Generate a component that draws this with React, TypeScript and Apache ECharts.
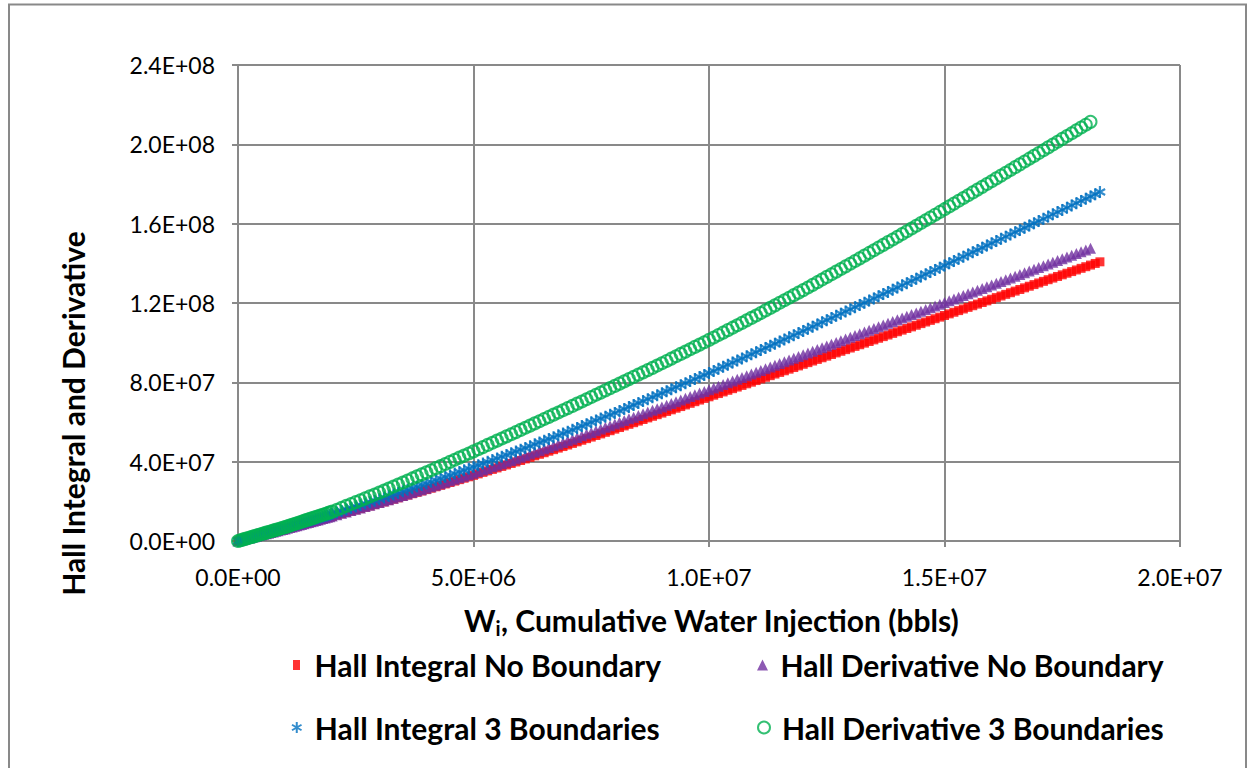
import React, { useEffect, useRef } from "react";
import * as echarts from "echarts";

// Cumulative water injection Wi, in millions of bbl (dense early steps, then ~1e5 bbl steps)
const wiMillionBbl = [
  0, 0.05, 0.1, 0.15, 0.2, 0.25, 0.3, 0.35, 0.4, 0.45, 0.5, 0.55, 0.6, 0.65, 0.7, 0.75, 0.8, 0.85, 0.9, 0.95,
  1, 1.05, 1.1, 1.15, 1.2, 1.25, 1.3, 1.35, 1.4, 1.45, 1.5, 1.55, 1.6, 1.65, 1.7, 1.75, 1.8, 1.85, 1.9, 1.95,
  2, 2.1, 2.2, 2.3, 2.4, 2.5, 2.6, 2.7, 2.8, 2.9,
  3, 3.1, 3.2, 3.3, 3.4, 3.5, 3.6, 3.7, 3.8, 3.9,
  4, 4.1, 4.2, 4.3, 4.4, 4.5, 4.6, 4.7, 4.8, 4.9,
  5, 5.1, 5.2, 5.3, 5.4, 5.5, 5.6, 5.7, 5.8, 5.9,
  6, 6.1, 6.2, 6.3, 6.4, 6.5, 6.6, 6.7, 6.8, 6.9,
  7, 7.1, 7.2, 7.3, 7.4, 7.5, 7.6, 7.7, 7.8, 7.9,
  8, 8.1, 8.2, 8.3, 8.4, 8.5, 8.6, 8.7, 8.8, 8.9,
  9, 9.1, 9.2, 9.3, 9.4, 9.5, 9.6, 9.7, 9.8, 9.9,
  10, 10.1, 10.2, 10.3, 10.4, 10.5, 10.6, 10.7, 10.8, 10.9,
  11, 11.1, 11.2, 11.3, 11.4, 11.5, 11.6, 11.7, 11.8, 11.9,
  12, 12.1, 12.2, 12.3, 12.4, 12.5, 12.6, 12.7, 12.8, 12.9,
  13, 13.1, 13.2, 13.3, 13.4, 13.5, 13.6, 13.7, 13.8, 13.9,
  14, 14.1, 14.2, 14.3, 14.4, 14.5, 14.6, 14.7, 14.8, 14.9,
  15, 15.1, 15.2, 15.3, 15.4, 15.5, 15.6, 15.7, 15.8, 15.9,
  16, 16.1, 16.2, 16.3, 16.4, 16.5, 16.6, 16.7, 16.8, 16.9,
  17, 17.1, 17.2, 17.3, 17.4, 17.5, 17.6, 17.7, 17.8, 17.9,
  18, 18.1, 18.2, 18.3,
];

// Hall Integral No Boundary (millions)
const hallIntegralNoBoundaryM = [
  0, 0.3, 0.6, 0.9, 1.2, 1.5, 1.8, 2.1, 2.4, 2.7, 3, 3.3, 3.6, 3.9, 4.2, 4.5, 4.8, 5.1, 5.4, 5.7,
  6, 6.32, 6.64, 6.96, 7.28, 7.6, 7.92, 8.24, 8.56, 8.88, 9.2, 9.52, 9.84, 10.16, 10.48, 10.8, 11.12, 11.44, 11.76, 12.08,
  12.4, 13.06, 13.72, 14.38, 15.04, 15.7, 16.36, 17.02, 17.68, 18.34,
  19, 19.69, 20.38, 21.07, 21.76, 22.45, 23.14, 23.83, 24.52, 25.21,
  25.9, 26.62, 27.34, 28.06, 28.78, 29.5, 30.22, 30.94, 31.66, 32.38,
  33.1, 33.85, 34.6, 35.35, 36.1, 36.85, 37.6, 38.35, 39.1, 39.85,
  40.6, 41.38, 42.16, 42.94, 43.72, 44.5, 45.28, 46.06, 46.84, 47.62,
  48.4, 49.2, 50, 50.8, 51.6, 52.4, 53.2, 54, 54.8, 55.6,
  56.4, 57.21, 58.02, 58.83, 59.64, 60.45, 61.26, 62.07, 62.88, 63.69,
  64.5, 65.32, 66.14, 66.96, 67.78, 68.6, 69.42, 70.24, 71.06, 71.88,
  72.7, 73.52, 74.34, 75.16, 75.98, 76.8, 77.62, 78.44, 79.26, 80.08,
  80.9, 81.72, 82.54, 83.36, 84.18, 85, 85.82, 86.64, 87.46, 88.28,
  89.1, 89.92, 90.74, 91.56, 92.38, 93.2, 94.02, 94.84, 95.66, 96.48,
  97.3, 98.12, 98.94, 99.76, 100.58, 101.4, 102.22, 103.04, 103.86, 104.68,
  105.5, 106.32, 107.14, 107.96, 108.78, 109.6, 110.42, 111.24, 112.06, 112.88,
  113.7, 114.52, 115.34, 116.16, 116.98, 117.8, 118.62, 119.44, 120.26, 121.08,
  121.9, 122.72, 123.54, 124.36, 125.18, 126, 126.82, 127.64, 128.46, 129.28,
  130.1, 130.92, 131.74, 132.56, 133.38, 134.2, 135.02, 135.84, 136.66, 137.48,
  138.3, 139.12, 139.94, 140.76,
];

// Hall Derivative No Boundary (millions)
const hallDerivativeNoBoundaryM = [
  0, 0.305, 0.61, 0.915, 1.22, 1.525, 1.83, 2.135, 2.44, 2.745, 3.05, 3.355, 3.66, 3.965, 4.27, 4.575, 4.88, 5.185, 5.49, 5.795,
  6.1, 6.425, 6.75, 7.075, 7.4, 7.725, 8.05, 8.375, 8.7, 9.025, 9.35, 9.675, 10, 10.325, 10.65, 10.975, 11.3, 11.625, 11.95, 12.275,
  12.6, 13.28, 13.96, 14.64, 15.32, 16, 16.68, 17.36, 18.04, 18.72,
  19.4, 20.12, 20.84, 21.56, 22.28, 23, 23.72, 24.44, 25.16, 25.88,
  26.6, 27.36, 28.12, 28.88, 29.64, 30.4, 31.16, 31.92, 32.68, 33.44,
  34.2, 35, 35.8, 36.6, 37.4, 38.2, 39, 39.8, 40.6, 41.4,
  42.2, 43.03, 43.86, 44.69, 45.52, 46.35, 47.18, 48.01, 48.84, 49.67,
  50.5, 51.35, 52.2, 53.05, 53.9, 54.75, 55.6, 56.45, 57.3, 58.15,
  59, 59.86, 60.72, 61.58, 62.44, 63.3, 64.16, 65.02, 65.88, 66.74,
  67.6, 68.47, 69.34, 70.21, 71.08, 71.95, 72.82, 73.69, 74.56, 75.43,
  76.3, 77.18, 78.06, 78.94, 79.82, 80.7, 81.58, 82.46, 83.34, 84.22,
  85.1, 85.98, 86.86, 87.74, 88.62, 89.5, 90.38, 91.26, 92.14, 93.02,
  93.9, 94.78, 95.66, 96.54, 97.42, 98.3, 99.18, 100.06, 100.94, 101.82,
  102.7, 103.58, 104.46, 105.34, 106.22, 107.1, 107.98, 108.86, 109.74, 110.62,
  111.5, 112.38, 113.26, 114.14, 115.02, 115.9, 116.78, 117.66, 118.54, 119.42,
  120.3, 121.18, 122.06, 122.94, 123.82, 124.7, 125.58, 126.46, 127.34, 128.22,
  129.1, 129.98, 130.86, 131.74, 132.62, 133.5, 134.38, 135.26, 136.14, 137.02,
  137.9, 138.78, 139.66, 140.54, 141.42, 142.3, 143.18, 144.06, 144.94, 145.82,
  146.7, 147.58,
];

// Hall Integral 3 Boundaries (millions)
const hallIntegral3BoundariesM = [
  0, 0.335, 0.67, 1.005, 1.34, 1.675, 2.01, 2.345, 2.68, 3.015, 3.35, 3.685, 4.02, 4.355, 4.69, 5.025, 5.36, 5.695, 6.03, 6.365,
  6.7, 7.045, 7.39, 7.735, 8.08, 8.425, 8.77, 9.115, 9.46, 9.805, 10.15, 10.495, 10.84, 11.185, 11.53, 11.875, 12.22, 12.565, 12.91, 13.255,
  13.6, 14.35, 15.1, 15.85, 16.6, 17.35, 18.1, 18.85, 19.6, 20.35,
  21.1, 21.89, 22.68, 23.47, 24.26, 25.05, 25.84, 26.63, 27.42, 28.21,
  29, 29.83, 30.66, 31.49, 32.32, 33.15, 33.98, 34.81, 35.64, 36.47,
  37.3, 38.17, 39.04, 39.91, 40.78, 41.65, 42.52, 43.39, 44.26, 45.13,
  46, 46.91, 47.82, 48.73, 49.64, 50.55, 51.46, 52.37, 53.28, 54.19,
  55.1, 56.05, 57, 57.95, 58.9, 59.85, 60.8, 61.75, 62.7, 63.65,
  64.6, 65.59, 66.58, 67.57, 68.56, 69.55, 70.54, 71.53, 72.52, 73.51,
  74.5, 75.52, 76.54, 77.56, 78.58, 79.6, 80.62, 81.64, 82.66, 83.68,
  84.7, 85.75, 86.8, 87.85, 88.9, 89.95, 91, 92.05, 93.1, 94.15,
  95.2, 96.27, 97.34, 98.41, 99.48, 100.55, 101.62, 102.69, 103.76, 104.83,
  105.9, 106.99, 108.08, 109.17, 110.26, 111.35, 112.44, 113.53, 114.62, 115.71,
  116.8, 117.9, 119, 120.1, 121.2, 122.3, 123.4, 124.5, 125.6, 126.7,
  127.8, 128.91, 130.02, 131.13, 132.24, 133.35, 134.46, 135.57, 136.68, 137.79,
  138.9, 140.02, 141.14, 142.26, 143.38, 144.5, 145.62, 146.74, 147.86, 148.98,
  150.1, 151.22, 152.34, 153.46, 154.58, 155.7, 156.82, 157.94, 159.06, 160.18,
  161.3, 162.43, 163.56, 164.69, 165.82, 166.95, 168.08, 169.21, 170.34, 171.47,
  172.6, 173.73, 174.86, 175.99,
];

// Hall Derivative 3 Boundaries (millions)
const hallDerivative3BoundariesM = [
  0, 0.35, 0.7, 1.05, 1.4, 1.75, 2.1, 2.45, 2.8, 3.15, 3.5, 3.85, 4.2, 4.55, 4.9, 5.25, 5.6, 5.95, 6.3, 6.65,
  7, 7.39, 7.78, 8.17, 8.56, 8.95, 9.34, 9.73, 10.12, 10.51, 10.9, 11.29, 11.68, 12.07, 12.46, 12.85, 13.24, 13.63, 14.02, 14.41,
  14.8, 15.76, 16.72, 17.68, 18.64, 19.6, 20.56, 21.52, 22.48, 23.44,
  24.4, 25.42, 26.44, 27.46, 28.48, 29.5, 30.52, 31.54, 32.56, 33.58,
  34.6, 35.66, 36.72, 37.78, 38.84, 39.9, 40.96, 42.02, 43.08, 44.14,
  45.2, 46.28, 47.36, 48.44, 49.52, 50.6, 51.68, 52.76, 53.84, 54.92,
  56, 57.1, 58.2, 59.3, 60.4, 61.5, 62.6, 63.7, 64.8, 65.9,
  67, 68.12, 69.24, 70.36, 71.48, 72.6, 73.72, 74.84, 75.96, 77.08,
  78.2, 79.34, 80.48, 81.62, 82.76, 83.9, 85.04, 86.18, 87.32, 88.46,
  89.6, 90.78, 91.96, 93.14, 94.32, 95.5, 96.68, 97.86, 99.04, 100.22,
  101.4, 102.63, 103.86, 105.09, 106.32, 107.55, 108.78, 110.01, 111.24, 112.47,
  113.7, 114.98, 116.26, 117.54, 118.82, 120.1, 121.38, 122.66, 123.94, 125.22,
  126.5, 127.83, 129.16, 130.49, 131.82, 133.15, 134.48, 135.81, 137.14, 138.47,
  139.8, 141.16, 142.52, 143.88, 145.24, 146.6, 147.96, 149.32, 150.68, 152.04,
  153.4, 154.79, 156.18, 157.57, 158.96, 160.35, 161.74, 163.13, 164.52, 165.91,
  167.3, 168.71, 170.12, 171.53, 172.94, 174.35, 175.76, 177.17, 178.58, 179.99,
  181.4, 182.82, 184.24, 185.66, 187.08, 188.5, 189.92, 191.34, 192.76, 194.18,
  195.6, 197.03, 198.46, 199.89, 201.32, 202.75, 204.18, 205.61, 207.04, 208.47,
  209.9, 211.33,
];

const seriesNames = [
  "Hall Integral No Boundary",
  "Hall Derivative No Boundary",
  "Hall Integral 3 Boundaries",
  "Hall Derivative 3 Boundaries",
];

const xAxisTitle = "W{sub|i}, Cumulative Water Injection (bbls)";
const yAxisTitle = "Hall Integral and Derivative";

const FONT = "Lato";
const GRID = "#898989";
const RED = "#FF0000";
const PURPLE = "#7030A0";
const BLUE = "#0070C0";
const GREEN = "#00B050";
const ASTERISK = "path://M5,0L5,10M0.67,2.5L9.33,7.5M0.67,7.5L9.33,2.5";

function toPairs(ys: number[]) {
  return ys.map((y, i) => [wiMillionBbl[i] * 1e6, y * 1e6]);
}

function sci(v: number) {
  if (v === 0) return "0.0E+00";
  const e = Math.floor(Math.log10(Math.abs(v)) + 1e-9);
  const m = v / Math.pow(10, e);
  return m.toFixed(1) + "E+" + String(e).padStart(2, "0");
}

function legendBlock(name: string, icon: string, left: number, top: number, iconH: number) {
  return {
    data: [{ name, icon }],
    left,
    top,
    padding: 0,
    itemWidth: 26,
    itemHeight: iconH,
    symbolKeepAspect: true,
    itemStyle: { borderWidth: 2 },
    textStyle: { fontFamily: FONT, fontSize: 30, fontWeight: "bold", color: "#000", lineHeight: 30 },
    selectedMode: false,
  };
}

export default function App() {
  const ref = useRef<HTMLDivElement>(null);
  useEffect(() => {
    if (!ref.current) return;
    const chart = echarts.init(ref.current, undefined, { renderer: "svg" });
    const axisCommon = {
      type: "value",
      axisLine: { show: true, onZero: false, lineStyle: { color: GRID, width: 2 } },
      axisTick: { show: true, length: 6, lineStyle: { color: GRID, width: 2 } },
      splitLine: { show: true, lineStyle: { color: GRID, width: 2 } },
    };
    const option: any = {
      animation: false,
      backgroundColor: "#ffffff",
      textStyle: { fontFamily: FONT },
      grid: { left: 238, right: 75, top: 65, bottom: 227 },
      xAxis: {
        ...axisCommon,
        min: 0,
        max: 2e7,
        interval: 5e6,
        axisLabel: { formatter: sci, fontSize: 23, color: "#000", fontFamily: FONT, margin: 24 },
      },
      yAxis: {
        ...axisCommon,
        min: 0,
        max: 2.4e8,
        interval: 4e7,
        axisLabel: { formatter: sci, fontSize: 23, color: "#000", fontFamily: FONT, margin: 23 },
      },
      legend: [
        legendBlock(seriesNames[0], "path://M0,0L7,0L7,10L0,10Z", 293, 650, 10),
        legendBlock(seriesNames[1], "path://M5,0L10,10L0,10Z", 757, 650, 11),
        legendBlock(seriesNames[2], ASTERISK, 291, 712.5, 11),
        legendBlock(seriesNames[3], "circle", 757, 712.5, 12),
      ],
      series: [
        {
          name: seriesNames[0],
          type: "scatter",
          data: toPairs(hallIntegralNoBoundaryM),
          symbol: "rect",
          symbolSize: 9,
          itemStyle: { color: RED },
          z: 2,
        },
        {
          name: seriesNames[1],
          type: "scatter",
          data: toPairs(hallDerivativeNoBoundaryM),
          symbol: "triangle",
          symbolSize: 11,
          itemStyle: { color: PURPLE },
          z: 3,
        },
        {
          name: seriesNames[2],
          type: "scatter",
          data: toPairs(hallIntegral3BoundariesM),
          symbol: ASTERISK,
          symbolSize: 12,
          symbolKeepAspect: true,
          itemStyle: { color: "rgba(0,0,0,0)", borderColor: BLUE, borderWidth: 2.2 },
          z: 4,
        },
        {
          name: seriesNames[3],
          type: "scatter",
          data: toPairs(hallDerivative3BoundariesM),
          symbol: "circle",
          symbolSize: 12,
          itemStyle: { color: "rgba(0,0,0,0)", borderColor: GREEN, borderWidth: 2 },
          z: 5,
        },
      ],
      graphic: [
        {
          type: "rect",
          silent: true,
          shape: { x: 9, y: 4.5, width: 1237, height: 820 },
          style: { fill: "none", stroke: GRID, lineWidth: 2 },
        },
        {
          type: "text",
          silent: true,
          x: 73,
          y: 413.5,
          rotation: Math.PI / 2,
          style: {
            text: yAxisTitle,
            fontFamily: FONT,
            fontSize: 30,
            fontWeight: "bold",
            fill: "#000",
            align: "center",
            verticalAlign: "middle",
            textAlign: "center",
            textVerticalAlign: "middle",
          },
        },
        {
          type: "text",
          silent: true,
          x: 711.5,
          y: 620,
          style: {
            text: xAxisTitle,
            fontFamily: FONT,
            fontSize: 30,
            fontWeight: "bold",
            lineHeight: 36,
            fill: "#000",
            align: "center",
            verticalAlign: "middle",
            textAlign: "center",
            textVerticalAlign: "middle",
            rich: {
              sub: {
                fontFamily: FONT,
                fontSize: 20,
                fontWeight: "bold",
                lineHeight: 36,
                verticalAlign: "bottom",
                fill: "#000",
              },
            },
          },
        },
      ],
    };
    chart.setOption(option);
    return () => chart.dispose();
  }, []);
  return (
    <div
      ref={ref}
      style={{ position: "absolute", left: 0, top: 0, width: 1255, height: 768, background: "#fff" }}
    />
  );
}
